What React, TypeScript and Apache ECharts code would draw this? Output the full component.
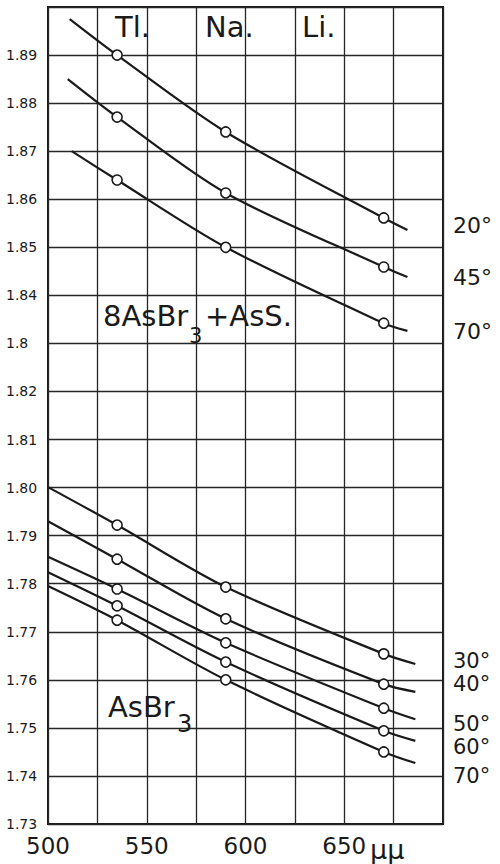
import React, { useEffect, useRef } from "react";
import * as echarts from "echarts";

// Wavelengths (mμ) of the Tl, Na, Li lines where measurements were made
const markerWavelengths = [535, 590, 670];
const lineNames = ["Tl.", "Na.", "Li."];

// 8AsBr3 + AsS. (temperatures 20°, 45°, 70°)
const mixTemps = ["20°", "45°", "70°"];
const mix20 = [1.89, 1.874, 1.8561];
const mix45 = [1.8771, 1.8613, 1.8459];
const mix70 = [1.864, 1.85, 1.8342];
const mixStartX = [511, 510, 512];
const mixStartY = [1.8975, 1.885, 1.87];
const mixEndX = [682, 682, 682];
const mixEndY = [1.8536, 1.8438, 1.8326];

// AsBr3 (temperatures 30°..70°)
const asbrTemps = ["30°", "40°", "50°", "60°", "70°"];
const asbr30 = [1.7922, 1.7793, 1.7654];
const asbr40 = [1.7851, 1.7727, 1.7591];
const asbr50 = [1.7789, 1.7677, 1.7541];
const asbr60 = [1.7754, 1.7637, 1.7494];
const asbr70 = [1.7724, 1.76, 1.745];
const asbrStartX = [500, 500, 500, 500, 500];
const asbrStartY = [1.8001, 1.793, 1.7856, 1.7824, 1.7795];
const asbrEndX = [686, 686, 686, 686, 686];
const asbrEndY = [1.7633, 1.7575, 1.7518, 1.7473, 1.7427];

// Axis tick labels as printed
const yTickLabels = [
  "1.73", "1.74", "1.75", "1.76", "1.77", "1.78", "1.79", "1.80", "1.81",
  "1.82", "1.8", "1.84", "1.85", "1.86", "1.87", "1.88", "1.89", "",
];
const xTickValues = [500, 550, 600, 650];
const xUnit = "μμ";

const INK = "#1a1a1a";
const FONT = "'DejaVu Sans', sans-serif";

function curve(sx: number, sy: number, ys: number[], ex: number, ey: number) {
  return [
    { value: [sx, sy], symbol: "none" },
    ...ys.map((y, i) => ({ value: [markerWavelengths[i], y] })),
    { value: [ex, ey], symbol: "none" },
  ];
}

export default function App() {
  const ref = useRef<HTMLDivElement>(null);

  useEffect(() => {
    if (!ref.current) return;
    const chart = echarts.init(ref.current, null, { renderer: "svg" });

    const mixSets = [mix20, mix45, mix70];
    const asbrSets = [asbr30, asbr40, asbr50, asbr60, asbr70];

    const series: any[] = [];
    mixSets.forEach((ys, i) => {
      series.push({
        type: "line",
        name: "8AsBr3+AsS " + mixTemps[i],
        data: curve(mixStartX[i], mixStartY[i], ys, mixEndX[i], mixEndY[i]),
      });
    });
    asbrSets.forEach((ys, i) => {
      series.push({
        type: "line",
        name: "AsBr3 " + asbrTemps[i],
        data: curve(asbrStartX[i], asbrStartY[i], ys, asbrEndX[i], asbrEndY[i]),
      });
    });
    series.forEach((s) => {
      Object.assign(s, {
        smooth: 0.3,
        symbol: "circle",
        symbolSize: 10,
        showAllSymbol: true,
        lineStyle: { color: INK, width: 2.2 },
        itemStyle: { color: "#ffffff", borderColor: INK, borderWidth: 1.6 },
        z: 3,
      });
    });

    const text = (t: string, x: number, y: number, size: number) => ({
      type: "text",
      x,
      y,
      style: {
        text: t,
        fill: INK,
        font: `${size}px ${FONT}`,
        textAlign: "left",
        textVerticalAlign: "middle",
      },
      z: 10,
    });

    const lineLabelX = [115, 205, 302];
    const mixLabelY = [225, 277, 331];
    const asbrLabelY = [661, 684, 724, 747, 776];

    const graphic: any[] = [
      ...lineNames.map((n, i) => text(n, lineLabelX[i], 27, 29)),
      text("8AsBr", 103, 316, 29),
      text("3", 189, 336, 21),
      text("+AsS.", 205, 316, 29),
      text("AsBr", 108, 707, 29),
      text("3", 177, 724, 24),
      ...mixTemps.map((t, i) => text(t, 453, mixLabelY[i], 22)),
      ...asbrTemps.map((t, i) => text(t, 453, asbrLabelY[i], 21)),
      text(xUnit, 370, 849, 27),
    ];

    chart.setOption({
      animation: false,
      backgroundColor: "#ffffff",
      grid: {
        left: 48,
        right: 57,
        top: 7,
        bottom: 40,
        show: true,
        borderColor: INK,
        borderWidth: 2,
        backgroundColor: "transparent",
      },
      xAxis: {
        type: "value",
        min: 500,
        max: 700,
        interval: 25,
        axisLine: { show: false },
        axisTick: { show: false },
        splitLine: { show: true, lineStyle: { color: "#262626", width: 1.3 } },
        axisLabel: {
          margin: 10,
          color: INK,
          fontFamily: FONT,
          fontSize: 23,
          formatter: (v: number) =>
            xTickValues.indexOf(Math.round(v)) >= 0 ? String(Math.round(v)) : "",
        },
      },
      yAxis: {
        type: "value",
        min: 1.73,
        max: 1.9,
        interval: 0.01,
        axisLine: { show: false },
        axisTick: { show: false },
        splitLine: { show: true, lineStyle: { color: "#262626", width: 1.3 } },
        axisLabel: {
          align: "left",
          margin: 42,
          color: INK,
          fontFamily: FONT,
          fontSize: 14,
          verticalAlign: "middle",
          padding: [0, 0, 8, 0],
          formatter: (v: number) => {
            const idx = Math.round((v - 1.73) * 100);
            return yTickLabels[idx] ?? "";
          },
        },
      },
      series,
      graphic,
    });

    return () => chart.dispose();
  }, []);

  return (
    <div
      ref={ref}
      style={{ position: "absolute", left: 0, top: 0, width: 500, height: 864 }}
    />
  );
}
